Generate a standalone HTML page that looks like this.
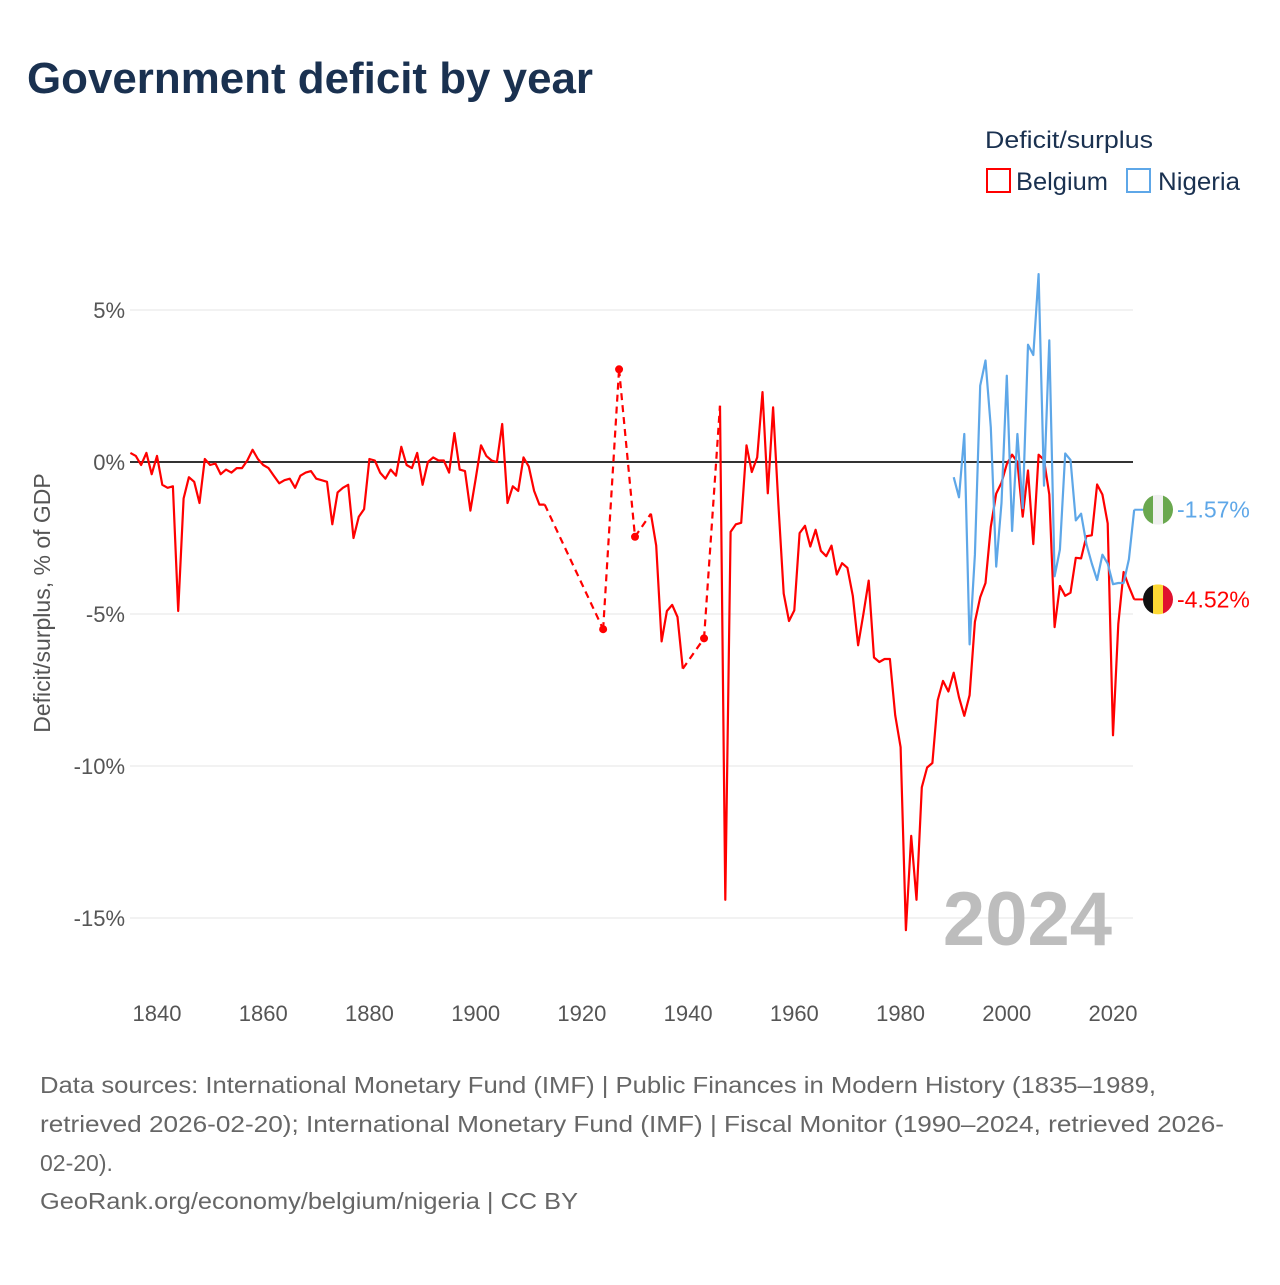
<!DOCTYPE html>
<html><head><meta charset="utf-8"><style>
html,body{margin:0;padding:0;background:#fff;}
svg text{font-family:"Liberation Sans",sans-serif;}
</style></head><body>
<svg id="chart" width="1280" height="1280" viewBox="0 0 1280 1280" xmlns="http://www.w3.org/2000/svg">
<text x="27" y="93" font-size="44" font-weight="bold" fill="#1a3150" textLength="566" lengthAdjust="spacingAndGlyphs">Government deficit by year</text>
<text x="985" y="148" font-size="24" fill="#1a3150" textLength="168" lengthAdjust="spacingAndGlyphs">Deficit/surplus</text>
<g>
<rect x="987" y="169" width="23" height="23" fill="none" stroke="#ff0000" stroke-width="2"/>
<text x="1016" y="190" font-size="25" fill="#1a3150" textLength="92" lengthAdjust="spacingAndGlyphs">Belgium</text>
</g>
<g>
<rect x="1127" y="169" width="23" height="23" fill="none" stroke="#5ea7e8" stroke-width="2"/>
<text x="1158" y="190" font-size="25" fill="#1a3150" textLength="82" lengthAdjust="spacingAndGlyphs">Nigeria</text>
</g>
<g id="grid"></g>
<g id="series"></g>
<text x="1112" y="945" font-size="76" font-weight="bold" fill="#bdbdbd" text-anchor="end">2024</text>
<text transform="translate(50,603) rotate(-90)" font-size="23" fill="#555" text-anchor="middle">Deficit/surplus, % of GDP</text>
<g font-size="23" fill="#666">
<text x="40" y="1093" textLength="1116" lengthAdjust="spacingAndGlyphs">Data sources: International Monetary Fund (IMF) | Public Finances in Modern History (1835–1989,</text>
<text x="40" y="1132" textLength="1184" lengthAdjust="spacingAndGlyphs">retrieved 2026-02-20); International Monetary Fund (IMF) | Fiscal Monitor (1990–2024, retrieved 2026-</text>
<text x="40" y="1171">02-20).</text>
<text x="40" y="1209" textLength="538" lengthAdjust="spacingAndGlyphs">GeoRank.org/economy/belgium/nigeria | CC BY</text>
</g>
</svg>
<script>
const yTicks = [5, 0, -5, -10, -15];
const yTickLabels = ["5%", "0%", "-5%", "-10%", "-15%"];
const xTicks = [1840, 1860, 1880, 1900, 1920, 1940, 1960, 1980, 2000, 2020];
const belgiumStart = 1835;
const belgiumValues = [0.3,0.2,-0.1,0.3,-0.4,0.2,-0.75,-0.85,-0.8,-4.9,-1.2,-0.5,-0.65,-1.35,0.1,-0.1,-0.05,-0.4,-0.25,-0.35,-0.2,-0.2,0.05,0.4,0.1,-0.1,-0.2,-0.45,-0.7,-0.6,-0.55,-0.85,-0.45,-0.35,-0.3,-0.55,-0.6,-0.65,-2.05,-1.0,-0.85,-0.75,-2.5,-1.8,-1.55,0.1,0.05,-0.35,-0.55,-0.25,-0.45,0.5,-0.1,-0.2,0.3,-0.75,0,0.15,0.05,0.05,-0.35,0.95,-0.25,-0.3,-1.6,-0.55,0.55,0.2,0.05,0,1.25,-1.35,-0.8,-0.95,0.15,-0.15,-0.95,-1.4,-1.4,
null,null,null,null,null,null,null,null,null,null,-5.5,null,null,3.05,null,null,-2.46,null,null,-1.7,-2.75,-5.9,-4.9,-4.7,-5.1,-6.8,null,null,null,-5.8,null,null,1.85,-14.4,-2.3,-2.05,-2.0,0.55,-0.33,0.15,2.3,-1.03,1.8,-1.4,-4.33,-5.23,-4.88,-2.34,-2.1,-2.78,-2.23,-2.92,-3.1,-2.75,-3.7,-3.33,-3.48,-4.4,-6.03,-5.0,-3.9,-6.43,-6.58,-6.48,-6.48,-8.33,-9.38,-15.4,-12.3,-14.4,-10.7,-10.05,-9.9,-7.84,-7.2,-7.55,-6.93,-7.74,-8.35,-7.67,-5.26,-4.45,-3.98,-2.13,-1.04,-0.68,-0.07,0.24,0.0,-1.8,-0.28,-2.7,0.24,0.07,-1.07,-5.43,-4.08,-4.4,-4.3,-3.15,-3.17,-2.44,-2.41,-0.74,-1.07,-2.02,-8.99,-5.33,-3.62,-4.1,-4.52];
const nigeriaStart = 1990;
const nigeriaValues = [-0.5,-1.16,0.92,-6.0,-3.05,2.51,3.34,1.14,-3.44,-1.35,2.84,-2.27,0.92,-1.52,3.86,3.52,6.18,-0.78,4.0,-3.76,-2.88,0.28,0.07,-1.92,-1.7,-2.7,-3.34,-3.88,-3.05,-3.34,-4.02,-3.98,-3.98,-3.2,-1.57];
const endLabels = ["-1.57%", "-4.52%"];

const NS = "http://www.w3.org/2000/svg";
const X0 = 130, X1 = 1133;
function xs(yr){ return 157 + (yr - 1840) * (1113 - 157) / 180; }
function ys(v){ return 462 - v * 30.4; }
function mk(tag, attrs, parent){ const e = document.createElementNS(NS, tag); for (const k in attrs) e.setAttribute(k, attrs[k]); parent.appendChild(e); return e; }
const grid = document.getElementById('grid');
const series = document.getElementById('series');

yTicks.forEach((t, i) => {
  if (t !== 0) {
    const l = mk('line', {x1: X0, x2: X1, y1: ys(t), y2: ys(t), stroke: '#e6e6e6', 'stroke-width': 1}, grid);
    
    
  }
  const tx = mk('text', {x: 125, y: ys(t) + 8, 'font-size': 22, fill: '#555', 'text-anchor': 'end'}, grid);
  tx.textContent = yTickLabels[i];
  
  
});
xTicks.forEach(t => {
  const tx = mk('text', {x: xs(t), y: 1021, 'font-size': 22, fill: '#555', 'text-anchor': 'middle'}, grid);
  tx.textContent = String(t);
  
  
});
const zl = mk('line', {x1: X0, x2: X1, y1: ys(0), y2: ys(0), stroke: '#333', 'stroke-width': 2}, grid);



function drawSeries(start, vals, color, name){
  const g = mk('g', {}, series);
  
  
  const pts = [];
  vals.forEach((v, i) => { if (v !== null && v !== undefined) pts.push({i, x: xs(start + i), y: ys(v)}); });
  let solid = '';
  for (let k = 0; k < pts.length; k++) {
    const p = pts[k], prev = pts[k-1];
    if (prev && p.i - prev.i === 1) solid += 'L' + p.x.toFixed(1) + ',' + p.y.toFixed(1);
    else solid += 'M' + p.x.toFixed(1) + ',' + p.y.toFixed(1);
    if (prev && p.i - prev.i > 1) {
      const d = mk('line', {x1: prev.x, y1: prev.y, x2: p.x, y2: p.y, stroke: color, 'stroke-width': 2.2, 'stroke-dasharray': '7,5'}, g);
      
      
    }
    const prevOk = prev && p.i - prev.i === 1;
    const next = pts[k+1];
    const nextOk = next && next.i - p.i === 1;
    if (!prevOk && !nextOk) {
      const c = mk('circle', {cx: p.x, cy: p.y, r: 4, fill: color}, g);
      
      
    }
  }
  const path = mk('path', {d: solid, fill: 'none', stroke: color, 'stroke-width': 2.2, 'stroke-linejoin': 'round'}, g);
  
  
  return pts[pts.length - 1];
}
const lb = drawSeries(belgiumStart, belgiumValues, '#ff0000', 'belgium');
const ln = drawSeries(nigeriaStart, nigeriaValues, '#5ea7e8', 'nigeria');

function flag(last, color, colors, label, name){
  const cx = 1158, cy = last.y;
  const l = mk('line', {x1: last.x, y1: last.y, x2: cx - 15, y2: cy, stroke: color, 'stroke-width': 2}, series);
  
  
  const g = mk('g', {}, series);
  
  
  const id = 'clip-' + name;
  const cp = mk('clipPath', {id}, g);
  mk('circle', {cx, cy, r: 15}, cp);
  colors.forEach((c, i) => { mk('rect', {x: cx - 15 + i * 10, y: cy - 15, width: 10.5, height: 30, fill: c, 'clip-path': 'url(#' + id + ')'}, g); });
  const t = mk('text', {x: 1177, y: cy + 8, 'font-size': 23, fill: color}, series);
  t.textContent = label;
  
  
}
flag(ln, '#5ea7e8', ['#6aa84f', '#f0f0f0', '#6aa84f'], endLabels[0], 'nigeria');
flag(lb, '#ff0000', ['#111111', '#fdd835', '#e0102e'], endLabels[1], 'belgium');
</script>
</body></html>
